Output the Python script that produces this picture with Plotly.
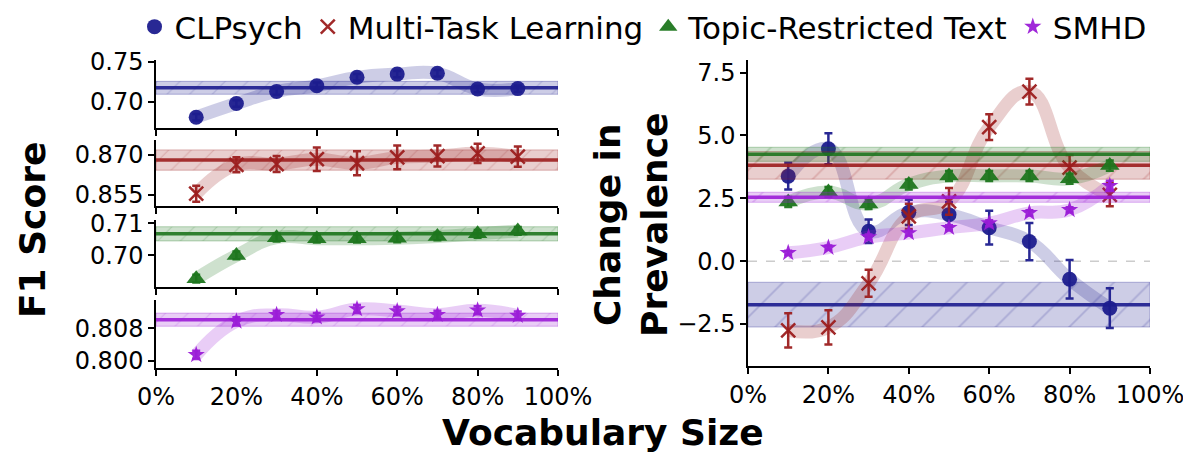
import plotly.graph_objects as go

# ---------------- data ----------------
vocab = [0.1, 0.2, 0.3, 0.4, 0.5, 0.6, 0.7, 0.8, 0.9]
series_names = ["CLPsych", "Multi-Task Learning", "Topic-Restricted Text", "SMHD"]

clpsych_f1 = [0.681, 0.698, 0.713, 0.720, 0.7305, 0.7345, 0.7355, 0.716, 0.7165]
clpsych_f1_err = [0.004, 0.004, 0.004, 0.004, 0.004, 0.004, 0.004, 0.004, 0.004]
clpsych_f1_mean = 0.7175
clpsych_f1_band = 0.008

mtl_f1 = [0.8555, 0.8663, 0.8666, 0.8684, 0.8669, 0.8691, 0.8696, 0.8706, 0.8694]
mtl_f1_err = [0.003, 0.0028, 0.003, 0.0044, 0.0045, 0.0044, 0.0039, 0.0036, 0.0038]
mtl_f1_mean = 0.8681
mtl_f1_band = 0.0038

topic_f1 = [0.6928, 0.7000, 0.7055, 0.7052, 0.7052, 0.7053, 0.7059, 0.7067, 0.7076]
topic_f1_err = [0.0012, 0.0012, 0.0012, 0.0012, 0.0012, 0.0012, 0.0012, 0.0012, 0.0012]
topic_f1_mean = 0.7067
topic_f1_band = 0.0022

smhd_f1 = [0.8015, 0.8097, 0.8113, 0.8107, 0.8127, 0.8122, 0.8113, 0.8124, 0.8111]
smhd_f1_err = [0.001, 0.001, 0.001, 0.001, 0.001, 0.001, 0.001, 0.001, 0.001]
smhd_f1_mean = 0.8101
smhd_f1_band = 0.0016

clpsych_prev = [3.38, 4.47, 1.19, 1.94, 1.85, 1.33, 0.78, -0.72, -1.87]
clpsych_prev_err = [0.53, 0.62, 0.47, 0.5, 0.5, 0.67, 0.74, 0.77, 0.79]
clpsych_prev_mean = -1.73
clpsych_prev_band = 0.89

mtl_prev = [-2.75, -2.63, -0.88, 1.78, 2.38, 5.33, 6.74, 3.72, 2.64]
mtl_prev_err = [0.68, 0.68, 0.54, 0.5, 0.53, 0.51, 0.51, 0.5, 0.46]
mtl_prev_mean = 3.81
mtl_prev_band = 0.55

topic_prev = [2.35, 2.75, 2.27, 3.05, 3.39, 3.39, 3.39, 3.28, 3.80]
topic_prev_err = [0.2, 0.2, 0.2, 0.2, 0.2, 0.2, 0.2, 0.2, 0.2]
topic_prev_mean = 4.25
topic_prev_band = 0.28

smhd_prev = [0.33, 0.54, 0.96, 1.12, 1.33, 1.51, 1.92, 2.04, 3.0]
smhd_prev_err = [0.08, 0.08, 0.1, 0.1, 0.1, 0.12, 0.1, 0.1, 0.2]
smhd_prev_mean = 2.54
smhd_prev_band = 0.2

f1_ticks = [[0.70, 0.75], [0.855, 0.870], [0.70, 0.71], [0.800, 0.808]]
f1_ticktext = [["0.70", "0.75"], ["0.855", "0.870"], ["0.70", "0.71"], ["0.800", "0.808"]]
f1_ranges = [[0.6676, 0.752], [0.8509, 0.8756], [0.6902, 0.711], [0.7983, 0.8149]]
prev_ticks = [-2.5, 0.0, 2.5, 5.0, 7.5]
prev_range = [-4.17, 8.0]
x_ticks = [0, 0.2, 0.4, 0.6, 0.8, 1.0]

# ---------------- style ----------------
rgb = [(28, 28, 142), (156, 30, 30), (30, 118, 30), (155, 28, 215)]
symbols = ["circle", "x-thin-open", "triangle-up", "star"]
msizes = [15, 14, 17, 13]
FONT = "DejaVu Sans"

def rgba(c, a):
    return f"rgba({c[0]},{c[1]},{c[2]},{a})"

# page has an 8px body margin; place everything in page pixels
OFF = 8
W, H = 1191 - OFF, 452 - OFF
def px_x(a, b):
    return [(a - OFF) / W, (b - OFF) / W]
def px_y(top, bottom):
    return [1 - (bottom - OFF) / H, 1 - (top - OFF) / H]
def fx(a):
    return (a - OFF) / W
def fy(a):
    return 1 - (a - OFF) / H

left_dom = px_x(156, 558)
right_dom = px_x(748, 1150)
left_ydoms = [px_y(60, 128), px_y(140, 206), px_y(220, 287), px_y(300, 368)]
right_ydom = px_y(60, 366)

fig = go.Figure()

f1_data = [(clpsych_f1, clpsych_f1_err, clpsych_f1_mean, clpsych_f1_band),
           (mtl_f1, mtl_f1_err, mtl_f1_mean, mtl_f1_band),
           (topic_f1, topic_f1_err, topic_f1_mean, topic_f1_band),
           (smhd_f1, smhd_f1_err, smhd_f1_mean, smhd_f1_band)]
prev_data = [(clpsych_prev, clpsych_prev_err, clpsych_prev_mean, clpsych_prev_band),
             (mtl_prev, mtl_prev_err, mtl_prev_mean, mtl_prev_band),
             (topic_prev, topic_prev_err, topic_prev_mean, topic_prev_band),
             (smhd_prev, smhd_prev_err, smhd_prev_mean, smhd_prev_band)]


def add_series(i, vals, errs, mean, band, xa, ya, showlegend, hatch_size):
    c = rgb[i]
    # hatched band
    fig.add_trace(go.Scatter(
        x=[0, 1, 1, 0, 0], y=[mean + band, mean + band, mean - band, mean - band, mean + band],
        mode="lines", fill="toself", fillcolor=rgba(c, 0.22),
        fillpattern=dict(shape="/", fgcolor=rgba(c, 0.4), bgcolor=rgba(c, 0.22),
                         size=hatch_size, solidity=0.07),
        line=dict(color=rgba(c, 0.3), width=1),
        xaxis=xa, yaxis=ya, showlegend=False, hoverinfo="skip"))
    # mean line
    fig.add_trace(go.Scatter(
        x=[0, 1], y=[mean, mean], mode="lines",
        line=dict(color=rgba(c, 0.9), width=3.5),
        xaxis=xa, yaxis=ya, showlegend=False, hoverinfo="skip"))
    # smooth translucent trend
    fig.add_trace(go.Scatter(
        x=vocab, y=vals, mode="lines",
        line=dict(color=rgba(c, 0.22), width=13, shape="spline", smoothing=1.3),
        xaxis=xa, yaxis=ya, showlegend=False, hoverinfo="skip"))
    # markers with error bars
    marker = dict(symbol=symbols[i], size=msizes[i], color=rgba(c, 0.95))
    if symbols[i].startswith("x"):
        marker["line"] = dict(color=rgba(c, 0.95), width=2.5)
    else:
        marker["line"] = dict(width=0)
    fig.add_trace(go.Scatter(
        x=vocab, y=vals, mode="markers", name=series_names[i],
        marker=marker,
        error_y=dict(type="data", array=errs, visible=True, color=rgba(c, 0.95),
                     thickness=2.5, width=4),
        xaxis=xa, yaxis=ya, showlegend=showlegend, legendgroup=series_names[i]))


axis_ids = [("x", "y"), ("x2", "y2"), ("x3", "y3"), ("x4", "y4")]
for i in range(4):
    vals, errs, mean, band = f1_data[i]
    add_series(i, vals, errs, mean, band, axis_ids[i][0], axis_ids[i][1], True, 16)

# zero reference line on right panel
fig.add_trace(go.Scatter(x=[0, 1], y=[0, 0], mode="lines",
                         line=dict(color="rgba(170,170,170,0.6)", width=1.5, dash="dash"),
                         xaxis="x5", yaxis="y5", showlegend=False, hoverinfo="skip"))
for i in range(4):
    vals, errs, mean, band = prev_data[i]
    add_series(i, vals, errs, mean, band, "x5", "y5", False, 26)

tickfont = dict(family=FONT, size=24, color="black")
common_x = dict(range=[0, 1], tickvals=x_ticks, tickformat=".0%", ticks="outside",
                ticklen=6, tickwidth=1.5, tickcolor="black", showline=True,
                linecolor="black", linewidth=1.5, showgrid=False, zeroline=False,
                tickfont=tickfont, fixedrange=True, automargin=False)
common_y = dict(ticks="outside", ticklen=6, tickwidth=1.5, tickcolor="black",
                showline=True, linecolor="black", linewidth=1.5, showgrid=False,
                zeroline=False, tickfont=tickfont, fixedrange=True, automargin=False)

layout = dict(
    width=W, height=H, autosize=False,
    margin=dict(l=0, r=0, t=0, b=0, pad=0, autoexpand=False),
    paper_bgcolor="white", plot_bgcolor="white",
    font=dict(family=FONT, color="black"),
    legend=dict(orientation="h", x=fx(643), xanchor="center", y=1.0 + 8 / H,
                yanchor="top",
                font=dict(family=FONT, size=31, color="black"),
                itemwidth=30, tracegroupgap=0, bgcolor="rgba(0,0,0,0)"),
)
for k in range(4):
    sx = "" if k == 0 else str(k + 1)
    layout["xaxis" + sx] = dict(common_x, domain=left_dom, anchor="y" + sx,
                                showticklabels=(k == 3))
    layout["yaxis" + sx] = dict(common_y, domain=left_ydoms[k], anchor="x" + sx,
                                range=f1_ranges[k], tickvals=f1_ticks[k],
                                ticktext=f1_ticktext[k])
layout["xaxis5"] = dict(common_x, domain=right_dom, anchor="y5")
layout["yaxis5"] = dict(common_y, domain=right_ydom, anchor="x5", range=prev_range,
                        tickvals=prev_ticks, tickformat=".1f")

layout["annotations"] = [
    dict(text="<b>F1 Score</b>", x=fx(32), y=fy(230), xref="paper", yref="paper",
         textangle=-90, showarrow=False, xanchor="center", yanchor="middle",
         font=dict(family=FONT, size=36, color="black")),
    dict(text="<b>Change in<br>Prevalence</b>", x=fx(631), y=fy(225),
         xref="paper", yref="paper", textangle=-90, showarrow=False,
         xanchor="center", yanchor="middle",
         font=dict(family=FONT, size=36, color="black")),
    dict(text="<b>Vocabulary Size</b>", x=fx(603), y=fy(432), xref="paper",
         yref="paper", showarrow=False, xanchor="center", yanchor="middle",
         font=dict(family=FONT, size=36, color="black")),
]

fig.update_layout(layout)
fig.write_html("out.html")
